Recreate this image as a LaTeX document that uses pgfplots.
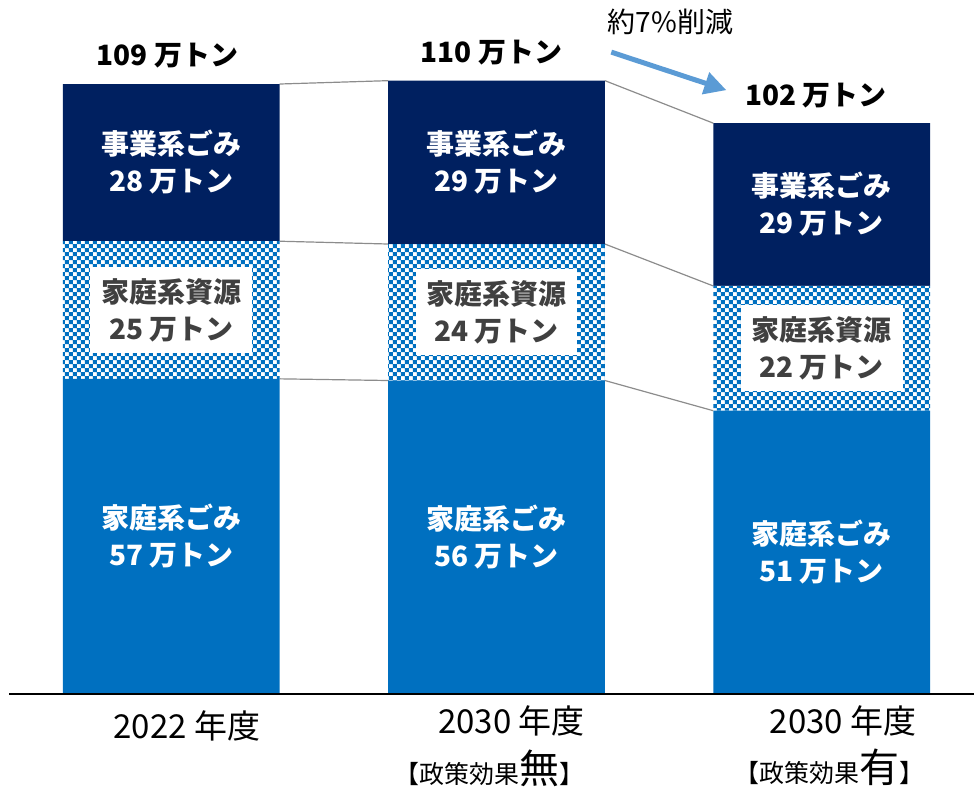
\documentclass[border=0pt]{standalone}
\usepackage{fontspec}
\setmainfont{Noto Sans CJK JP}
\usepackage{pgfplots}
\pgfplotsset{compat=1.18}
\usetikzlibrary{arrows.meta, patterns}

\definecolor{navy}{HTML}{002060}
\definecolor{hhblue}{HTML}{0070C0}
\definecolor{arrowblue}{HTML}{5B9BD5}
\definecolor{darktxt}{HTML}{404040}
\definecolor{linkgray}{HTML}{8C8C8C}

% cross lattice used for the resource segment
\pgfdeclarepatternformonly{crosslat}{\pgfqpoint{0pt}{0pt}}{\pgfqpoint{4pt}{4pt}}{\pgfqpoint{4pt}{4pt}}{%
  \pgfpathrectangle{\pgfqpoint{0pt}{0pt}}{\pgfqpoint{1pt}{1pt}}%
  \pgfpathrectangle{\pgfqpoint{1pt}{1pt}}{\pgfqpoint{1pt}{1pt}}%
  \pgfpathrectangle{\pgfqpoint{2pt}{2pt}}{\pgfqpoint{1pt}{1pt}}%
  \pgfpathrectangle{\pgfqpoint{3pt}{3pt}}{\pgfqpoint{1pt}{1pt}}%
  \pgfpathrectangle{\pgfqpoint{3pt}{0pt}}{\pgfqpoint{1pt}{1pt}}%
  \pgfpathrectangle{\pgfqpoint{2pt}{1pt}}{\pgfqpoint{1pt}{1pt}}%
  \pgfpathrectangle{\pgfqpoint{1pt}{2pt}}{\pgfqpoint{1pt}{1pt}}%
  \pgfpathrectangle{\pgfqpoint{0pt}{3pt}}{\pgfqpoint{1pt}{1pt}}%
  \pgfusepath{fill}}

\newcommand{\barfont}{\fontsize{14}{18.5}\selectfont\bfseries}

\begin{document}
\begin{tikzpicture}
\begin{axis}[width=487.5pt, height=392.5pt, scale only axis, set layers,
  every axis plot/.append style={on layer=axis background},
  axis lines=none, xtick=\empty, ytick=\empty,
  xmin=-0.5269, xmax=2.4685, ymin=-16.16, ymax=124.02,
  ybar stacked, bar width=0.6667, clip=false]

% household garbage
\addplot[draw=none, fill=hhblue] coordinates {(0,56.3) (1,56.0) (2,50.6)};
% household resources
\addplot[draw=none, fill=white, postaction={pattern=crosslat, pattern color=hhblue}]
  coordinates {(0,24.6) (1,24.4) (2,22.3)};
% business garbage
\addplot[draw=none, fill=navy] coordinates {(0,28.1) (1,29.2) (2,29.1)};

% connector lines between bars
\addplot[stack plots=false, sharp plot, linkgray, line width=0.6pt, unbounded coords=jump]
  coordinates {(0.3333,56.3) (0.6667,56.0) (1,nan) (1.3333,56.0) (1.6667,50.6)};
\addplot[stack plots=false, sharp plot, linkgray, line width=0.6pt, unbounded coords=jump]
  coordinates {(0.3333,80.9) (0.6667,80.4) (1,nan) (1.3333,80.4) (1.6667,72.9)};
\addplot[stack plots=false, sharp plot, linkgray, line width=0.6pt, unbounded coords=jump]
  coordinates {(0.3333,109.0) (0.6667,109.6) (1,nan) (1.3333,109.6) (1.6667,102.0)};

\path (rel axis cs:0,0) rectangle (rel axis cs:1,1);
\draw[black, line width=1pt] (axis cs:-0.498,0) -- (axis cs:2.4685,0);

% segment labels
\node[white, font=\barfont, align=center] at (axis cs:0,28.2) {家庭系ごみ\\57 万トン};
\node[white, font=\barfont, align=center] at (axis cs:1,28.0) {家庭系ごみ\\56 万トン};
\node[white, font=\barfont, align=center] at (axis cs:2,25.3) {家庭系ごみ\\51 万トン};

\node[fill=white, text=darktxt, font=\barfont, align=center, minimum width=81pt, minimum height=43pt, inner sep=0pt] at (axis cs:0,68.6) {家庭系資源\\25 万トン};
\node[fill=white, text=darktxt, font=\barfont, align=center, minimum width=81pt, minimum height=43pt, inner sep=0pt] at (axis cs:1,68.2) {家庭系資源\\24 万トン};
\node[fill=white, text=darktxt, font=\barfont, align=center, minimum width=81pt, minimum height=43pt, inner sep=0pt] at (axis cs:2,61.8) {家庭系資源\\22 万トン};

\node[white, font=\barfont, align=center] at (axis cs:0,95.0) {事業系ごみ\\28 万トン};
\node[white, font=\barfont, align=center] at (axis cs:1,95.0) {事業系ごみ\\29 万トン};
\node[white, font=\barfont, align=center] at (axis cs:2,87.5) {事業系ごみ\\29 万トン};

% totals
\node[font=\fontsize{14}{16}\selectfont\bfseries] at (axis cs:-0.012,114.0) {109 万トン};
\node[font=\fontsize{14}{16}\selectfont\bfseries] at (axis cs:0.985,114.7) {110 万トン};
\node[font=\fontsize{14}{16}\selectfont\bfseries] at (axis cs:1.983,106.9) {102 万トン};

% reduction arrow
\draw[arrowblue, line width=2.5pt, -{Triangle[length=11pt, width=11pt]}] (axis cs:1.353,114.7) -- (axis cs:1.707,107.9);
\node[font=\fontsize{14}{16}\selectfont] at (axis cs:1.535,120.1) {約7\%削減};

% category labels
\node[font=\fontsize{16.5}{18}\selectfont] at (axis cs:0.048,-5.8) {2022 年度};
\node[font=\fontsize{16.5}{18}\selectfont] at (axis cs:1.046,-4.9) {2030 年度};
\node[font=\fontsize{16.5}{18}\selectfont] at (axis cs:2.066,-4.9) {2030 年度};
\node[font=\fontsize{12.5}{14}\selectfont] at (axis cs:0.978,-13.3) {【政策効果{\fontsize{20}{20}\selectfont 無}】};
\node[font=\fontsize{12.5}{14}\selectfont] at (axis cs:2.023,-13.1) {【政策効果{\fontsize{20}{20}\selectfont 有}】};
\end{axis}
\end{tikzpicture}
\end{document}
